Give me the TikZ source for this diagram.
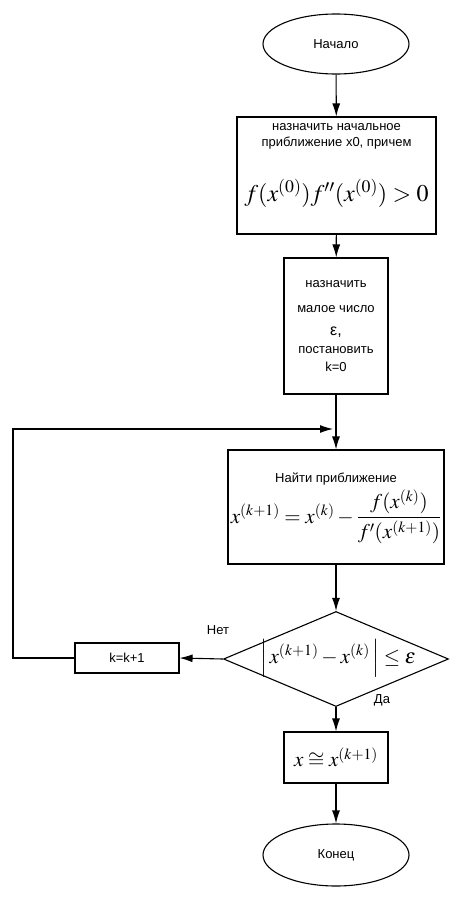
\documentclass[tikz,border=0pt]{standalone}
\usepackage{amsmath}
\usepackage{amssymb}
\usepackage[no-math]{fontspec}
\usepackage{mathptmx}
\setmainfont{Liberation Sans}
\usetikzlibrary{arrows.meta}
\usetikzlibrary{shapes.geometric}
\tikzstyle{chart}=[x=1pt, y=-1pt, line width=1.1pt, font=\fontsize{13}{15}\selectfont]
\tikzstyle{term}=[ellipse, draw, inner sep=0pt, minimum width=146pt, minimum height=60pt]
\tikzstyle{proc}=[rectangle, draw, inner sep=0pt, align=center]
\tikzstyle{cond}=[diamond, draw, inner sep=0pt, minimum width=225pt, minimum height=95pt]
\tikzstyle{big}=[font=\fontsize{21}{25}\selectfont]
\tikzstyle{edge}=[-{Latex[length=13pt,width=8pt]}]
\tikzstyle{edgeLabel}=[inner sep=0pt]

\begin{document}
\begin{tikzpicture}[chart]
	\useasboundingbox (0,0) rectangle (460,899);
	\draw (336,44) node[term] (start) {Начало};

	%first guess
	\draw (336.5,175.5) node[proc, minimum width=199pt, minimum height=117pt] (init)
		{назначить начальное\\[1pt]приближение x0, причем\\[29pt]
		{\fontsize{24}{28}\selectfont$f(x^{(0)})f''(x^{(0)})>0$}\\[11pt]\mbox{}};

	%tolerance
	\draw (336,326) node[proc, minimum width=104pt, minimum height=136pt] (eps)
		{назначить\\[10pt]малое число\\[8pt]{\fontsize{16}{18}\selectfont ε,}\\[3pt]постановить\\[3pt]k=0};

	%newton step
	\draw (336,507) node[proc, minimum width=216pt, minimum height=114pt] (iter)
		{Найти приближение\\[3pt]
		{\fontsize{21}{25}\selectfont$x^{(k+1)}=x^{(k)}-\dfrac{f(x^{(k)})}{f'(x^{(k+1)})}$}\\[-4pt]\mbox{}};

	%stop test
	\draw (336,659) node[cond] (check) {};
	\node[big, inner sep=0pt] (checkF) at (338,658)
		{$\left|\,x^{(k+1)}-x^{(k)}\vphantom{\Big|}\,\right|\le\varepsilon$};

	\draw (127,658) node[proc, minimum width=104pt, minimum height=30pt] (inc) {k=k+1};

	\draw (336,757.5) node[proc, minimum width=104pt, minimum height=51pt, big] (result)
		{$x\cong x^{(k+1)}$};

	\draw (336,855) node[term, minimum height=62pt] (stop) {Конец};

	\node[edgeLabel] (no) at (218,630) {Нет};
	\node[edgeLabel] (yes) at (382,700) {Да};

	\coordinate (loopL) at (13,429);
	\coordinate (loopR) at (336,429);

	\draw[edge] (start) -- (init);
	\draw[edge] (init) -- (eps);
	\draw[edge] (eps) -- (iter);
	\draw[edge] (iter) -- (check);
	\draw[edge] (check.west) -- (inc.east);
	\draw[edge, shorten >=3pt] (inc.west) -- (inc.west -| loopL) -- (loopL) -- (loopR);
	\draw[edge] (check.south) -- (result);
	\draw[edge] (result) -- (stop);
\end{tikzpicture}
\end{document}
